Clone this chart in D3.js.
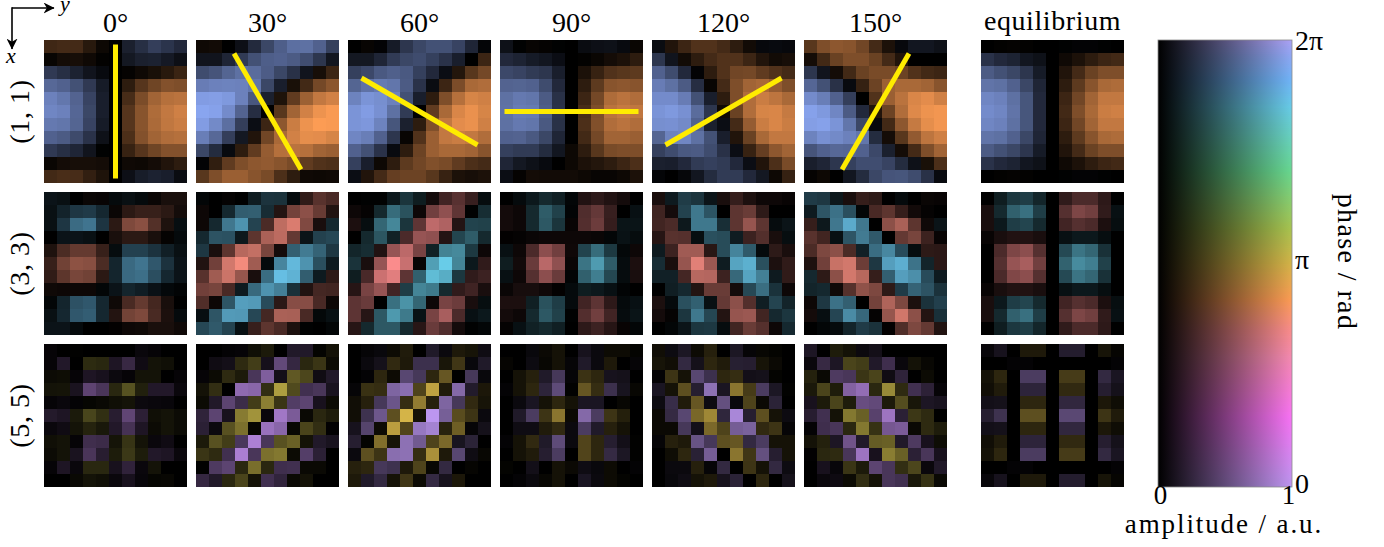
<!DOCTYPE html>
<html>
<head>
<meta charset="utf-8">
<script src="https://cdn.jsdelivr.net/npm/d3@7"></script>
<style>
  html, body { margin: 0; padding: 0; background: #fff; }
  svg { display: block; }
  text { font-family: "Liberation Serif", serif; fill: #000; }
</style>
</head>
<body>
<svg id="chart"></svg>
<script>
// Signed amplitude in percent, 11 x 11 cells. + is the cool phase of the mode, - the warm one.
const m1_0 = [
  [-25,-27,-27,-16,-5,0,19,28,37,31,24],
  [-3,-8,-9,-6,-1,0,14,19,20,15,9],
  [34,28,20,12,6,0,-2,-6,-10,-16,-23],
  [62,58,48,34,16,0,-18,-34,-44,-52,-50],
  [77,71,59,40,18,0,-28,-49,-64,-72,-74],
  [80,77,61,42,18,0,-34,-54,-69,-77,-82],
  [72,70,60,40,16,0,-34,-54,-68,-76,-80],
  [58,54,44,30,10,0,-30,-52,-64,-70,-72],
  [34,28,22,12,1,0,-22,-34,-44,-52,-52],
  [-4,-8,-9,-9,-8,0,-6,-5,-8,-13,-18],
  [-26,-29,-28,-20,-12,0,9,17,20,18,7],
];
const m1_30 = [
  [-6,-7,0,9,25,42,56,66,67,58,38],
  [12,12,22,35,48,56,58,54,46,32,13],
  [45,50,60,67,64,55,42,29,12,-9,-24],
  [74,77,78,77,70,42,18,-10,-26,-46,-55],
  [93,94,91,77,52,19,-12,-38,-62,-77,-83],
  [98,96,83,59,27,0,-35,-64,-83,-94,-99],
  [93,82,66,37,8,-24,-56,-80,-94,-100,-99],
  [75,62,37,14,-13,-45,-67,-83,-91,-90,-85],
  [42,26,6,-18,-38,-59,-72,-74,-72,-64,-61],
  [2,-19,-38,-50,-56,-58,-54,-48,-38,-32,-30],
  [-35,-50,-61,-61,-54,-48,-30,-18,-6,-5,-6],
];
const m1_60 = [
  [0,-3,2,16,32,42,48,48,40,22,3],
  [14,14,22,35,42,45,38,30,18,0,-24],
  [38,43,53,57,53,38,24,8,-14,-35,-46],
  [60,68,73,70,54,30,7,-24,-49,-67,-70],
  [78,88,85,77,48,18,-18,-50,-72,-85,-82],
  [88,93,86,67,35,0,-38,-67,-86,-93,-85],
  [88,90,78,51,19,-18,-51,-77,-90,-93,-82],
  [80,75,58,32,-3,-32,-61,-77,-80,-77,-70],
  [58,48,30,6,-18,-43,-61,-67,-67,-64,-54],
  [38,18,-5,-18,-37,-45,-51,-48,-38,-30,-27],
  [8,-13,-27,-40,-43,-43,-35,-22,-11,-9,-11],
];
const m1_90 = [
  [10,1,-3,-2,1,0,7,9,10,6,-4],
  [24,21,16,13,8,0,-1,-4,-8,-11,-18],
  [43,40,35,32,18,0,-11,-22,-32,-35,-37],
  [59,60,58,45,24,0,-18,-37,-54,-56,-54],
  [67,72,70,54,29,0,-24,-46,-69,-74,-70],
  [68,74,73,56,30,0,-28,-50,-74,-78,-76],
  [67,72,70,53,29,0,-30,-51,-70,-74,-70],
  [58,59,53,42,22,0,-26,-46,-64,-64,-61],
  [38,35,35,26,13,-5,-18,-35,-48,-50,-50],
  [22,14,10,6,0,-5,-11,-14,-18,-24,-30],
  [8,-2,-8,-7,-7,-7,-5,-3,-3,-5,-11],
];
const m1_120 = [
  [7,-13,-24,-32,-32,-27,-18,-7,5,6,5],
  [32,12,-7,-18,-27,-32,-32,-24,-13,-7,-9],
  [58,45,24,2,-18,-32,-45,-46,-38,-32,-27],
  [74,67,54,27,-3,-27,-50,-64,-67,-59,-50],
  [83,83,74,48,18,-18,-50,-70,-80,-75,-67],
  [88,91,86,64,32,-6,-42,-70,-85,-86,-78],
  [85,86,82,58,19,8,-27,-59,-80,-86,-80],
  [60,78,80,67,48,18,-13,-42,-67,-77,-77],
  [38,45,53,54,45,29,8,-22,-40,-56,-64],
  [19,18,24,35,38,35,24,8,-13,-30,-48],
  [3,0,4,13,26,35,35,24,14,-5,-21],
];
const m1_150 = [
  [-35,-50,-56,-54,-45,-27,-11,5,13,13,10],
  [-8,-26,-42,-50,-50,-42,-27,-13,0,0,0],
  [32,12,-8,-26,-42,-48,-48,-43,-32,-26,-24],
  [61,48,29,6,-21,-43,-62,-67,-67,-64,-54],
  [83,75,58,37,0,-32,-61,-74,-86,-90,-82],
  [96,91,80,54,24,-13,-43,-70,-88,-94,-96],
  [94,96,88,70,42,5,-26,-56,-78,-91,-96],
  [78,86,82,77,70,26,-8,-35,-58,-75,-82],
  [50,58,62,61,58,43,19,-8,-27,-50,-64],
  [18,22,32,38,46,46,40,26,10,-10,-30],
  [-2,-5,0,13,26,42,50,51,45,29,6],
];
const m1_eq = [
  [0,-1,-2,-1,0,0,1,2,2,1,0],
  [30,24,21,13,10,0,-6,-11,-18,-24,-26],
  [54,48,42,32,16,0,-13,-27,-42,-50,-50],
  [69,67,58,42,22,0,-18,-37,-54,-67,-69],
  [80,77,67,51,24,0,-24,-45,-64,-77,-77],
  [83,80,69,51,24,0,-26,-50,-67,-80,-82],
  [80,77,67,51,24,0,-24,-45,-64,-77,-77],
  [69,67,58,42,22,0,-18,-37,-54,-67,-69],
  [54,48,42,32,16,0,-13,-27,-42,-50,-50],
  [30,24,21,13,10,0,-6,-11,-18,-24,-26],
  [0,-1,-2,-1,0,0,1,2,2,1,0],
];

const m3_0 = [
  [10,8,0,-4,-3,5,8,5,-4,-10,-10],
  [8,18,28,30,20,-4,-17,-22,-22,-17,-8],
  [8,28,55,60,27,-17,-50,-55,-33,-12,7],
  [0,10,10,8,0,-10,-17,-17,-10,-2,5],
  [-12,-30,-40,-40,-22,6,33,33,26,16,8],
  [-22,-45,-56,-54,-30,19,54,60,45,26,10],
  [-19,-37,-48,-45,-17,19,54,57,40,20,10],
  [-6,-5,-5,-5,3,10,19,15,9,4,2],
  [3,19,42,45,20,-6,-29,-40,-27,-10,0],
  [8,20,45,48,20,-14,-46,-50,-29,-11,5],
  [10,10,5,0,0,-1,-5,-6,-10,-10,-6],
];
const m3_30 = [
  [3,0,-2,0,14,26,25,5,-19,-35,-29],
  [-5,0,20,47,48,22,-14,-46,-56,-41,-13],
  [-5,20,60,74,34,-30,-76,-87,-51,-10,20],
  [20,42,41,12,-37,-68,-75,-40,10,33,36],
  [28,-10,-37,-73,-78,-48,-8,48,62,50,28],
  [-13,-45,-84,-97,-64,5,67,93,74,40,13],
  [-35,-64,-81,-60,-10,55,96,90,47,13,-18],
  [-45,-48,-29,13,53,74,64,24,-13,-27,-26],
  [-32,-5,43,80,78,38,-17,-54,-54,-29,-5],
  [7,43,78,77,36,-27,-68,-67,-29,4,8],
  [36,45,34,8,-22,-37,-29,-11,1,0,3],
];
const m3_60 = [
  [0,1,1,12,26,14,-8,-26,-35,-22,6],
  [-5,-2,20,53,40,-5,-45,-57,-38,1,22],
  [-11,7,50,66,26,-38,-76,-70,-14,33,32],
  [0,20,42,16,-30,-60,-57,-14,34,45,20],
  [18,22,-13,-60,-75,-48,16,64,67,28,-5],
  [25,-10,-60,-100,-80,-3,78,100,65,12,-19],
  [14,-29,-81,-90,-37,47,92,85,27,-19,-24],
  [-15,-48,-60,-26,30,65,60,20,-19,-25,-10],
  [-37,-42,0,55,72,50,-5,-48,-43,-10,7],
  [-37,-15,43,75,60,9,-48,-67,-30,8,12],
  [-15,20,43,43,20,-16,-42,-32,-8,1,3],
];
const m3_90 = [
  [0,5,12,20,15,3,-13,-18,-13,-8,0],
  [-8,-5,20,45,32,2,-32,-40,-22,0,8],
  [-8,-5,20,43,26,-3,-33,-43,-21,10,10],
  [-1,-2,-4,-5,-5,-5,-5,-4,3,9,6],
  [8,-5,-30,-56,-45,-6,33,53,28,4,-5],
  [14,-7,-42,-74,-57,-4,57,76,45,6,-11],
  [8,-5,-34,-56,-42,2,47,62,35,6,-10],
  [-4,-9,-9,-6,-1,5,14,12,8,2,0],
  [-11,-11,15,40,30,5,-26,-37,-18,5,8],
  [-8,-5,20,43,32,1,-33,-45,-26,6,10],
  [-2,8,16,20,15,0,-18,-24,-15,-3,3],
];
const m3_120 = [
  [-10,13,30,26,10,-10,-21,-11,-5,-5,-3],
  [-25,-8,33,60,42,0,-37,-42,-18,0,0],
  [-26,-30,12,60,60,23,-37,-60,-37,6,10],
  [-15,-35,-34,7,40,38,14,-24,-33,-10,7],
  [13,-24,-64,-64,-16,38,66,45,5,-18,-10],
  [22,-10,-60,-90,-62,14,82,88,40,-11,-19],
  [16,16,-27,-73,-72,-24,52,82,64,13,-19],
  [0,15,20,-14,-42,-42,-8,36,55,25,-5],
  [-11,5,40,48,8,-40,-56,-33,15,34,18],
  [-8,-2,27,60,35,-14,-60,-62,-26,20,27],
  [0,3,10,27,28,6,-26,-42,-34,-5,20],
];
const m3_150 = [
  [30,28,12,-10,-21,-18,0,5,0,-4,-3],
  [13,43,57,40,3,-29,-37,-21,-7,-2,0],
  [-21,12,60,86,60,0,-56,-68,-37,-6,10],
  [-35,-26,8,43,62,45,0,-40,-48,-24,-3],
  [-30,-50,-56,-30,16,55,68,38,6,-18,-17],
  [-12,-45,-80,-84,-43,28,80,88,58,18,-17],
  [20,-18,-56,-84,-73,-21,48,80,72,38,13],
  [18,20,-6,-34,-57,-50,-18,30,50,42,25],
  [-5,28,57,48,0,-46,-70,-50,-11,25,32],
  [-8,7,35,70,52,-2,-60,-83,-56,-14,24],
  [0,3,5,18,30,25,-1,-32,-50,-40,-13],
];
const m3_eq = [
  [0,14,27,30,18,0,-19,-30,-30,-18,0],
  [-10,20,47,55,30,0,-34,-50,-45,-19,8],
  [-10,12,30,34,20,0,-26,-34,-30,-11,7],
  [-3,-10,-13,-13,-10,0,8,12,12,7,0],
  [0,-30,-50,-56,-34,0,36,57,50,24,0],
  [0,-34,-60,-67,-45,0,48,68,62,32,0],
  [0,-30,-51,-56,-34,0,36,57,50,24,0],
  [-3,-10,-13,-13,-10,0,8,12,12,7,0],
  [-10,12,30,34,20,0,-26,-34,-30,-11,7],
  [-10,20,47,55,30,0,-34,-50,-45,-19,8],
  [0,14,27,30,18,0,-19,-30,-30,-18,0],
];

const m5_0 = [
  [3,0,-1,0,0,0,0,5,3,0,0],
  [3,17,0,-23,-21,15,28,8,-10,-8,0],
  [-6,-7,3,15,12,6,3,-10,-10,0,3],
  [-10,-11,13,47,37,-21,-44,-17,17,17,5],
  [3,5,2,-3,-5,-8,-10,6,5,4,0],
  [18,15,-14,-37,-25,20,48,22,-8,-10,-6],
  [5,8,-10,-19,-13,17,35,15,-6,-10,-6],
  [-8,-10,3,32,30,-11,-28,-10,5,8,0],
  [-6,-10,13,37,20,-15,-30,-15,17,15,5],
  [3,15,5,-21,-21,12,24,5,-10,0,0],
  [0,0,-5,-10,-8,5,12,4,-3,-4,0],
];
const m5_30 = [
  [0,0,2,3,-8,-14,0,17,17,-2,-10],
  [0,8,10,-23,-33,11,50,27,-21,-29,-6],
  [3,-6,-23,-14,37,65,10,-48,-38,8,17],
  [-10,-25,0,73,70,-25,-86,-40,33,37,13],
  [-6,17,47,30,-33,-69,-29,42,47,12,-6],
  [24,47,12,-67,-80,5,82,63,-5,-21,-15],
  [22,6,-44,-61,-3,78,70,-4,-37,-25,1],
  [-14,-44,-33,38,88,37,-44,-52,-10,17,13],
  [-29,-23,33,87,37,-61,-65,-6,43,22,0],
  [-1,40,47,-21,-60,-21,32,33,-5,-5,0],
  [27,17,-21,-37,-10,33,25,-5,-10,0,0],
];
const m5_60 = [
  [0,3,5,-6,-15,0,17,6,-14,-11,8],
  [0,6,11,-23,-14,32,32,-12,-30,5,17],
  [0,2,-21,-6,47,37,-21,-48,0,37,5],
  [3,-27,-25,67,73,-37,-90,-15,70,18,-13],
  [-8,-18,37,57,-25,-69,-18,67,37,-23,-11],
  [-8,33,58,-44,-100,-10,100,63,-42,-29,6],
  [12,45,-6,-88,-38,80,87,-19,-52,3,11],
  [20,-2,-61,-11,75,60,-37,-58,13,23,0],
  [6,-44,-29,73,75,-25,-80,-14,47,8,-4],
  [-18,-21,37,33,-14,-37,-4,27,0,-3,0],
  [-14,17,27,-10,-30,-6,28,12,-13,0,0],
];
const m5_90 = [
  [0,0,5,-5,-10,0,12,6,-6,-6,-2],
  [-3,0,7,-4,-10,3,17,6,-14,0,3],
  [0,-10,-18,17,37,3,-28,-21,12,11,0],
  [2,-10,-21,24,50,-1,-48,-25,32,13,-4],
  [0,6,14,-10,-21,-10,14,14,0,-4,0],
  [0,17,40,-29,-65,-5,70,40,-29,-17,0],
  [0,8,8,-15,-23,6,40,17,-18,-10,0],
  [2,-10,-23,17,50,6,-38,-21,20,10,-1],
  [0,-10,-15,20,40,0,-38,-21,28,15,-1],
  [-2,0,10,0,-10,-5,8,5,-6,0,2],
  [0,2,6,-4,-10,0,14,6,-6,-2,0],
];
const m5_120 = [
  [-8,7,15,-6,-18,0,15,3,-4,-2,0],
  [-11,-8,27,11,-21,-15,21,20,-11,-5,0],
  [2,-29,-10,47,32,-21,-25,10,11,-2,0],
  [14,-10,-44,20,75,14,-65,-33,40,15,-1],
  [7,30,-15,-48,7,53,5,-37,-5,23,0],
  [-5,28,47,-57,-75,25,90,20,-44,-10,7],
  [-5,-5,37,10,-58,-37,62,65,-23,-29,3],
  [3,-18,-14,55,37,-44,-48,27,40,-10,-10],
  [0,-7,-21,22,62,0,-65,-30,53,20,-10],
  [0,6,6,-18,3,27,0,-29,-10,27,7],
  [0,5,8,-10,-14,12,23,0,-21,0,11],
];
const m5_150 = [
  [15,0,-15,-10,6,10,0,0,0,0,0],
  [5,28,15,-37,-33,17,32,5,-10,-4,0],
  [-18,-5,40,37,-29,-37,8,24,0,-6,0],
  [-13,-37,-15,67,75,-21,-75,-23,33,23,3],
  [12,-14,-37,-15,53,50,-14,-42,-12,15,13],
  [20,33,-10,-65,-52,45,80,22,-30,-23,0],
  [2,32,37,-21,-65,-27,60,63,-5,-23,-15],
  [-10,-18,15,57,17,-50,-52,17,40,12,-7],
  [1,-21,-23,37,80,12,-68,-52,22,37,12],
  [0,12,4,-29,-14,47,37,-25,-38,5,17],
  [0,5,7,-6,-25,-10,37,33,-13,-27,-5],
];
const m5_eq = [
  [4,12,0,-14,-14,0,19,19,0,-11,-3],
  [0,0,2,2,0,0,0,0,0,0,2],
  [-10,-21,0,40,40,0,-33,-33,0,27,14],
  [-8,-15,0,24,24,0,-23,-23,0,20,11],
  [10,11,0,-21,-21,0,26,26,0,-13,-7],
  [20,33,0,-44,-44,0,48,48,0,-29,-15],
  [10,11,0,-21,-21,0,26,26,0,-13,-7],
  [-8,-15,0,24,24,0,-23,-23,0,20,11],
  [-10,-21,0,40,40,0,-33,-33,0,27,14],
  [0,0,2,2,0,0,0,0,0,0,2],
  [4,12,0,-14,-14,0,19,19,0,-11,-3],
];

const rowLabels = ["(1, 1)", "(3, 3)", "(5, 5)"];
const columnLabels = ["0°", "30°", "60°", "90°", "120°", "150°", "equilibrium"];
const lineAngles = [0, 30, 60, 90, 120, 150];
const panelGrid = [
  [m1_0, m1_30, m1_60, m1_90, m1_120, m1_150, m1_eq],
  [m3_0, m3_30, m3_60, m3_90, m3_120, m3_150, m3_eq],
  [m5_0, m5_30, m5_60, m5_90, m5_120, m5_150, m5_eq],
];
// phase of each mode in units of pi: [positive cells, negative cells]
const modePhases = [[1.92, 0.84], [1.70, 0.70], [0, 1.0]];
// small phase drift per panel, units of pi
const phaseDrift = [
  [0, 0, 0, 0, 0, 0, 0],
  [0.05, 0.03, 0, 0, 0.02, 0.03, 0],
  [0.06, 0.04, 0, 0, 0, 0.04, 0],
];

// colour bar at full amplitude, phase in units of pi
const phaseStops = [0, 0.314, 0.58, 0.70, 0.84, 1.0, 1.156, 1.412, 1.70, 1.82, 1.92, 2];
const phaseColors = ["#bc96f0", "#f872f4", "#f58ab0", "#fa8c8c", "#fc9c54", "#d4b448",
  "#a8c450", "#68d890", "#68cce8", "#70b4f8", "#8ca8f4", "#aca2f6"];

const width = 1384;
const height = 547;
const panelSize = 143;
const nCells = 11;
const columnX = [44, 196, 348, 500, 652, 804, 981];
const rowY = [40, 192, 344];
const barBox = { x0: 1158, x1: 1292, y0: 40, y1: 487 };
const labelSize = 28;

const svg = d3.select("#chart").attr("width", width).attr("height", height);
const defs = svg.append("defs");

const phaseColor = d3.scaleLinear().domain(phaseStops).range(phaseColors).interpolate(d3.interpolateRgb);
const cellColor = (phase, amp) => d3.interpolateRgb("#000", phaseColor(phase))(amp);
const cellScale = d3.scaleBand().domain(d3.range(nCells)).range([0, panelSize]);

// Panels
panelGrid.forEach((row, ri) => {
  row.forEach((matrix, ci) => {
    const panel = svg.append("g").attr("transform", `translate(${columnX[ci]},${rowY[ri]})`);
    const cells = matrix.flatMap((vals, r) => vals.map((v, c) => ({ r, c, v })));
    const drift = phaseDrift[ri][ci];
    panel.selectAll("rect").data(cells).join("rect")
      .attr("x", (d) => cellScale(d.c))
      .attr("y", (d) => cellScale(d.r))
      .attr("width", cellScale.bandwidth())
      .attr("height", cellScale.bandwidth())
      .attr("shape-rendering", "crispEdges")
      .attr("fill", (d) => cellColor((d.v >= 0 ? modePhases[ri][0] : modePhases[ri][1]) + drift, Math.abs(d.v) / 100));

    // Scan direction, first row only
    if (ri === 0 && ci < lineAngles.length) {
      const a = (lineAngles[ci] * Math.PI) / 180;
      const half = 67;
      const mid = panelSize / 2;
      panel.append("line")
        .attr("x1", mid - half * Math.sin(a))
        .attr("y1", mid - half * Math.cos(a))
        .attr("x2", mid + half * Math.sin(a))
        .attr("y2", mid + half * Math.cos(a))
        .attr("stroke", "#ffec00")
        .attr("stroke-width", 5);
    }
  });
});

// Column and row labels
svg.selectAll(".col-label").data(columnLabels).join("text")
  .attr("class", "col-label")
  .attr("x", (d, i) => columnX[i] + panelSize / 2)
  .attr("y", (d, i) => (i === 6 ? 30 : 32))
  .attr("text-anchor", "middle")
  .attr("font-size", labelSize)
  .attr("letter-spacing", (d, i) => (i === 6 ? 0.6 : 0))
  .text((d) => d);

svg.selectAll(".row-label").data(rowLabels).join("text")
  .attr("class", "row-label")
  .attr("transform", (d, i) => `translate(29,${rowY[i] + panelSize / 2}) rotate(-90)`)
  .attr("text-anchor", "middle")
  .attr("font-size", labelSize)
  .attr("letter-spacing", 0.6)
  .text((d) => d);

// Axes arrows in the corner
defs.append("marker")
  .attr("id", "head")
  .attr("viewBox", "0 0 10 10")
  .attr("refX", 9.5).attr("refY", 5)
  .attr("markerUnits", "userSpaceOnUse")
  .attr("markerWidth", 11).attr("markerHeight", 11)
  .attr("orient", "auto")
  .append("path").attr("d", "M0,0 L10,5 L0,10 L3,5 Z").attr("fill", "#000");

svg.append("line")
  .attr("x1", 12).attr("y1", 8).attr("x2", 54).attr("y2", 8)
  .attr("stroke", "#000").attr("stroke-width", 1.6).attr("marker-end", "url(#head)");
svg.append("line")
  .attr("x1", 12).attr("y1", 7.2).attr("x2", 12).attr("y2", 49)
  .attr("stroke", "#000").attr("stroke-width", 1.6).attr("marker-end", "url(#head)");
svg.append("text").attr("x", 60).attr("y", 11).attr("font-size", 22).attr("font-style", "italic").text("y");
svg.append("text").attr("x", 6).attr("y", 63).attr("font-size", 22).attr("font-style", "italic").text("x");

// 2D colour bar: one horizontal black-to-colour gradient per row
const phaseY = d3.scaleLinear().domain([0, 2]).range([barBox.y1, barBox.y0]);
const ampX = d3.scaleLinear().domain([0, 1]).range([barBox.x0, barBox.x1]);
const barRows = d3.range(barBox.y0, barBox.y1, 2);
barRows.forEach((y, i) => {
  const g = defs.append("linearGradient").attr("id", `bar${i}`);
  g.append("stop").attr("offset", "0%").attr("stop-color", "#000");
  g.append("stop").attr("offset", "100%").attr("stop-color", phaseColor(phaseY.invert(y + 1)));
});
svg.append("g").selectAll("rect").data(barRows).join("rect")
  .attr("x", ampX(0))
  .attr("y", (d) => d)
  .attr("width", ampX(1) - ampX(0))
  .attr("height", (d) => Math.min(2.5, barBox.y1 - d))
  .attr("fill", (d, i) => `url(#bar${i})`);
svg.append("rect")
  .attr("x", ampX(0)).attr("y", phaseY(2))
  .attr("width", ampX(1) - ampX(0)).attr("height", phaseY(0) - phaseY(2))
  .attr("fill", "none").attr("stroke", "#8a8a8a").attr("stroke-width", 0.8);

// Colour bar ticks
const phaseTicks = [0, 1, 2];
const phaseTickLabels = ["0", "π", "2π"];
const phaseTickDy = [5, 4.5, 9];
const ampTicks = [0, 1];
const ampTickDx = [2, -4];
svg.append("g")
  .attr("transform", `translate(${barBox.x1 + 3},0)`)
  .call(d3.axisRight(phaseY).tickValues(phaseTicks).tickSize(0).tickPadding(0)
    .tickFormat((d, i) => phaseTickLabels[i]))
  .call((a) => a.select(".domain").remove())
  .call((a) => a.selectAll("text")
    .attr("font-family", "Liberation Serif").attr("font-size", labelSize)
    .attr("fill", "#000")
    .attr("dy", (d, i) => phaseTickDy[i]));
svg.append("g")
  .attr("transform", `translate(0,${barBox.y1})`)
  .call(d3.axisBottom(ampX).tickValues(ampTicks).tickSize(0).tickPadding(0).tickFormat(d3.format("d")))
  .call((a) => a.select(".domain").remove())
  .call((a) => a.selectAll("text")
    .attr("font-family", "Liberation Serif").attr("font-size", 27)
    .attr("fill", "#000")
    .attr("y", 16.5).attr("dy", 0)
    .attr("dx", (d, i) => ampTickDx[i]));

svg.append("text")
  .attr("x", 1224).attr("y", 533)
  .attr("text-anchor", "middle").attr("font-size", 27)
  .attr("letter-spacing", 1.9)
  .text("amplitude / a.u.");
svg.append("text")
  .attr("transform", "translate(1338,262) rotate(90)")
  .attr("text-anchor", "middle").attr("font-size", labelSize)
  .attr("letter-spacing", 1.4)
  .text("phase / rad");
</script>
</body>
</html>
